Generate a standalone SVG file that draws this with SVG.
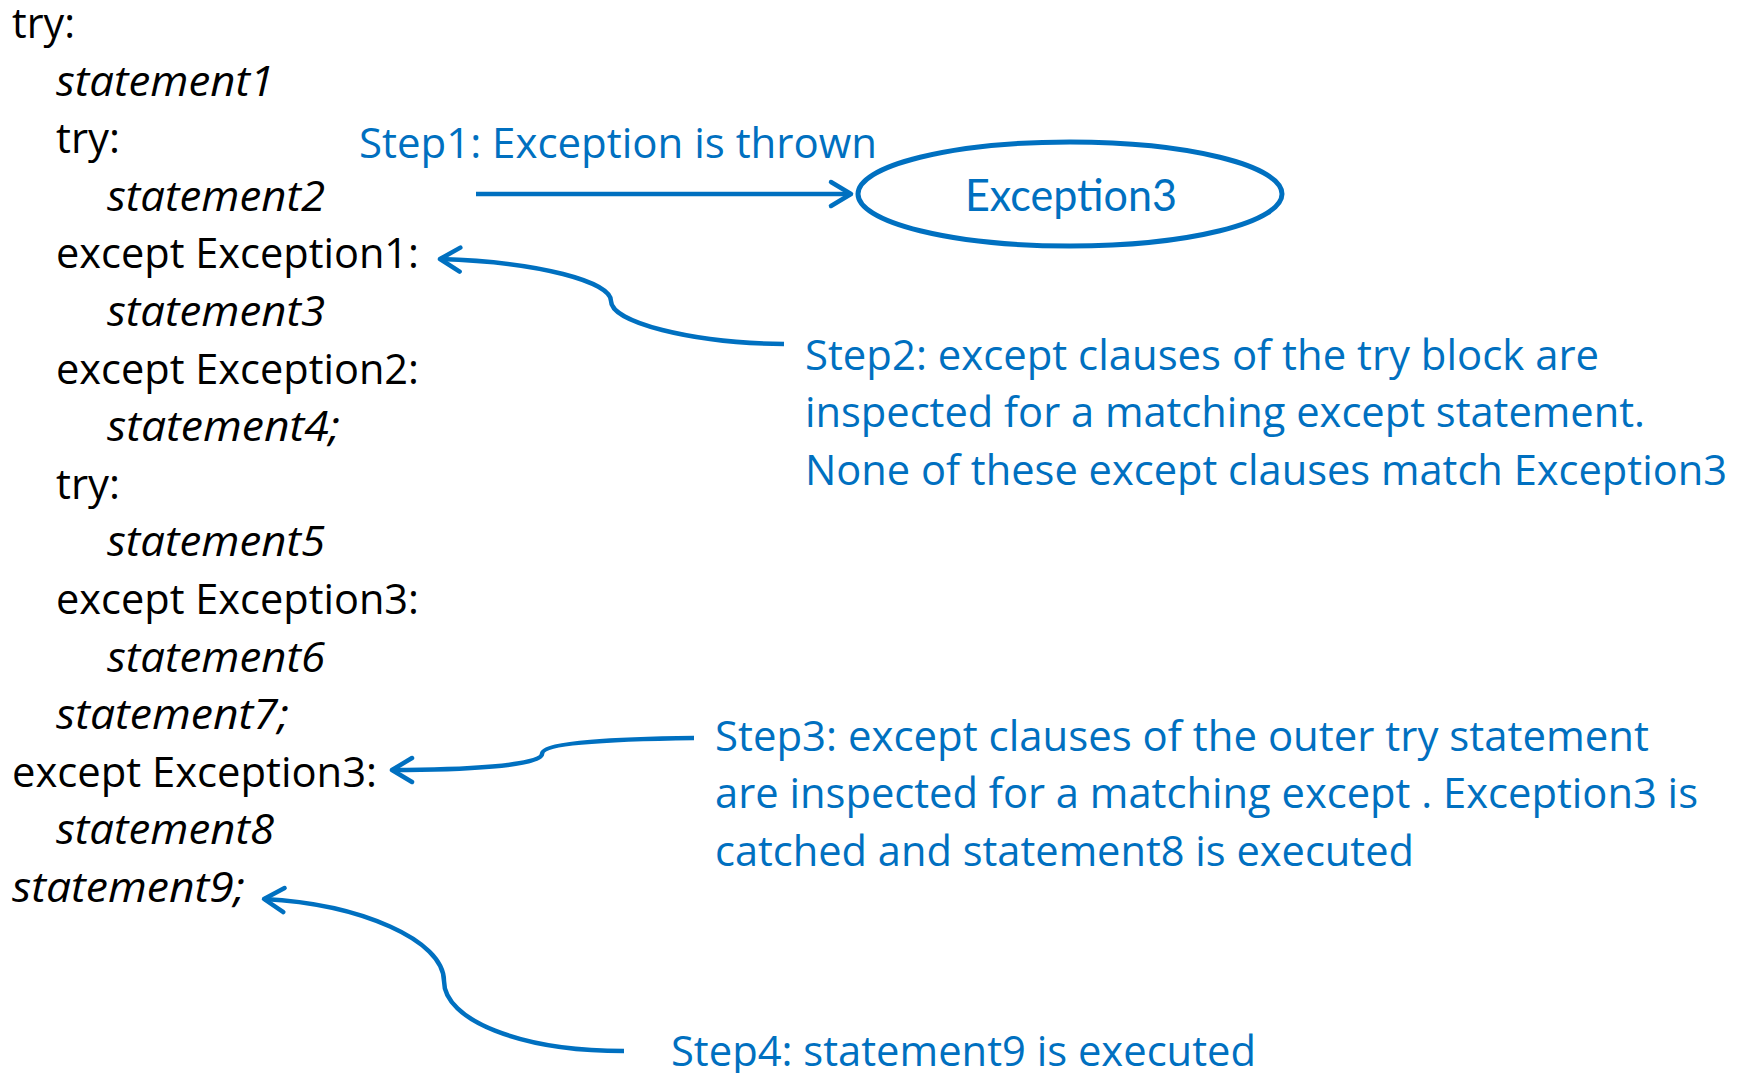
<svg xmlns="http://www.w3.org/2000/svg" width="1748" height="1073" viewBox="0 0 1748 1073">
<style>
.code{font-family:"Open Sans","Liberation Sans",sans-serif;font-size:42px;fill:#000}
.it{font-style:italic}
.blue{font-family:"Open Sans","Liberation Sans",sans-serif;font-size:42px;fill:#0070C0}
.exc{font-family:Lato,"Open Sans",sans-serif;font-size:44px;fill:#0070C0}
.conn{fill:none;stroke:#0070C0;stroke-width:4.5;marker-end:url(#arr)}
</style>
<defs>
<marker id="arr" markerUnits="userSpaceOnUse" viewBox="-26 -18 30 36" refX="0" refY="0" markerWidth="30" markerHeight="36" orient="auto">
<path d="M -20 -12 L 0 0 L -20 12" fill="none" stroke="#0070C0" stroke-width="4.5" stroke-linecap="round" stroke-linejoin="round"/>
</marker>
</defs>
<rect width="1748" height="1073" fill="#fff"/>
<g id="code" transform="translate(0,3)">
<text class="code" x="12" y="35" textLength="63" lengthAdjust="spacingAndGlyphs">try:</text>
<text class="code it" x="56" y="92.6" textLength="218" lengthAdjust="spacingAndGlyphs">statement1</text>
<text class="code" x="56" y="150.2" textLength="64" lengthAdjust="spacingAndGlyphs">try:</text>
<text class="code it" x="107" y="207.8" textLength="218" lengthAdjust="spacingAndGlyphs">statement2</text>
<text class="code" x="56" y="265.4" textLength="363" lengthAdjust="spacingAndGlyphs">except Exception1:</text>
<text class="code it" x="107" y="323" textLength="218" lengthAdjust="spacingAndGlyphs">statement3</text>
<text class="code" x="56" y="380.6" textLength="363" lengthAdjust="spacingAndGlyphs">except Exception2:</text>
<text class="code it" x="107" y="438.2" textLength="233" lengthAdjust="spacingAndGlyphs">statement4;</text>
<text class="code" x="56" y="495.8" textLength="64" lengthAdjust="spacingAndGlyphs">try:</text>
<text class="code it" x="107" y="553.4" textLength="218" lengthAdjust="spacingAndGlyphs">statement5</text>
<text class="code" x="56" y="611" textLength="363" lengthAdjust="spacingAndGlyphs">except Exception3:</text>
<text class="code it" x="107" y="668.6" textLength="218" lengthAdjust="spacingAndGlyphs">statement6</text>
<text class="code it" x="56" y="726.2" textLength="233" lengthAdjust="spacingAndGlyphs">statement7;</text>
<text class="code" x="12" y="783.8" textLength="365" lengthAdjust="spacingAndGlyphs">except Exception3:</text>
<text class="code it" x="56" y="841.4" textLength="218" lengthAdjust="spacingAndGlyphs">statement8</text>
<text class="code it" x="12" y="899" textLength="233" lengthAdjust="spacingAndGlyphs">statement9;</text>
</g>
<g id="exception3">
<ellipse cx="1070" cy="194" rx="212" ry="52" fill="#fff" stroke="#0070C0" stroke-width="5"/>
<text class="exc" x="965" y="211" textLength="212" lengthAdjust="spacingAndGlyphs">Exception3</text>
</g>
<g id="step1">
<text class="blue" x="359" y="158" textLength="518" lengthAdjust="spacingAndGlyphs">Step1: Exception is thrown</text>
</g>
<g id="step2">
<text class="blue" x="805" y="370" textLength="794" lengthAdjust="spacingAndGlyphs">Step2: except clauses of the try block are</text>
<text class="blue" x="805" y="427" textLength="840" lengthAdjust="spacingAndGlyphs">inspected for a matching except statement.</text>
<text class="blue" x="805" y="485" textLength="922" lengthAdjust="spacingAndGlyphs">None of these except clauses match Exception3</text>
</g>
<g id="step3">
<text class="blue" x="715" y="751" textLength="934" lengthAdjust="spacingAndGlyphs">Step3: except clauses of the outer try statement</text>
<text class="blue" x="715" y="808" textLength="983" lengthAdjust="spacingAndGlyphs">are inspected for a matching except . Exception3 is</text>
<text class="blue" x="715" y="866" textLength="699" lengthAdjust="spacingAndGlyphs">catched and statement8 is executed</text>
</g>
<g id="step4">
<text class="blue" x="671" y="1066" textLength="585" lengthAdjust="spacingAndGlyphs">Step4: statement9 is executed</text>
</g>
<g id="connectors">
<path class="conn" d="M 476 194 L 851 194"/>
<path class="conn" d="M 784 344 C 690 343, 611 322, 611 301 C 611 282, 540 262, 440 259"/>
<path class="conn" d="M 694 738 C 620 739, 542 742, 542 754 C 542 766, 460 770, 392 770"/>
<path class="conn" d="M 624 1051 C 520 1051, 444 1020, 444 981 C 444 940, 360 904, 264 899"/>
</g>
</svg>
